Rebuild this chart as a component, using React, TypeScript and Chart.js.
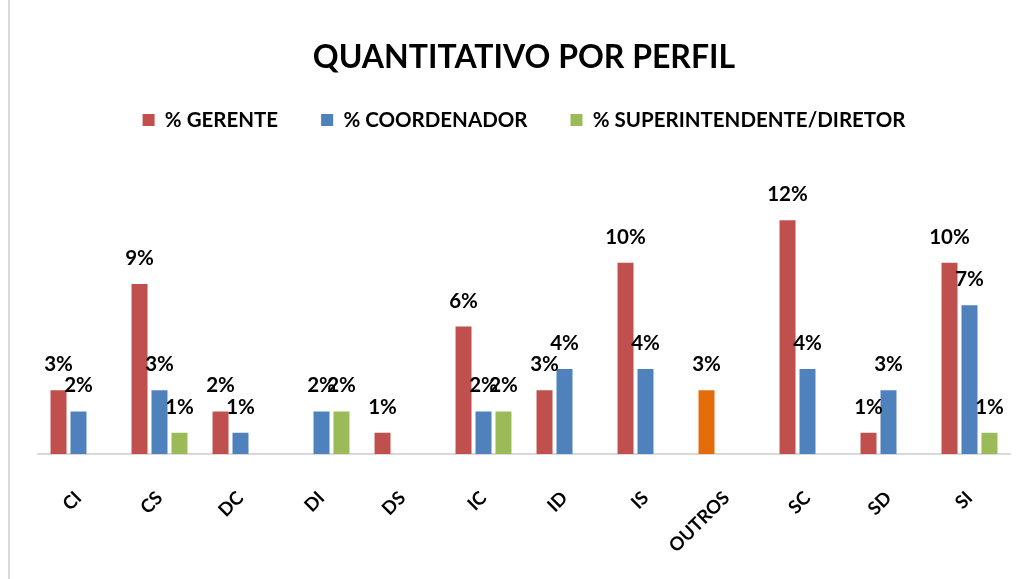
import React, { useEffect, useRef } from "react";
import { Chart, registerables } from "chart.js";

Chart.register(...registerables);

const categories = ["CI", "CS", "DC", "DI", "DS", "IC", "ID", "IS", "OUTROS", "SC", "SD", "SI"];
const gerente = [3.19, 8.51, 2.13, 0, 1.06, 6.38, 3.19, 9.57, 3.19, 11.7, 1.06, 9.57];
const coordenador = [2.13, 3.19, 1.06, 2.13, 0, 2.13, 4.26, 4.26, 0, 4.26, 3.19, 7.45];
const superintendente = [0, 1.06, 0, 2.13, 0, 2.13, 0, 0, 0, 0, 0, 1.06];
const seriesNames = ["% GERENTE", "% COORDENADOR", "% SUPERINTENDENTE/DIRETOR"];

const RED = "#C0504D";
const BLUE = "#4F81BD";
const GREEN = "#9BBB59";
const ORANGE = "#E46C0A";
const FONT = "Lato, 'Open Sans', sans-serif";

const valueLabels = {
  id: "valueLabels",
  afterDatasetsDraw(chart: any) {
    const ctx = chart.ctx;
    ctx.save();
    ctx.font = `bold 20.5px ${FONT}`;
    ctx.fillStyle = "#000";
    ctx.textAlign = "center";
    ctx.textBaseline = "alphabetic";
    chart.data.datasets.forEach((ds: any, i: number) => {
      const meta = chart.getDatasetMeta(i);
      meta.data.forEach((bar: any, j: number) => {
        const v = ds.data[j];
        if (!v) return;
        ctx.fillText(`${Math.round(v)}%`, bar.x, bar.y - 19);
      });
    });
    ctx.restore();
  },
};

export default function App() {
  const ref = useRef<HTMLCanvasElement>(null);
  useEffect(() => {
    if (!ref.current) return;
    const gerenteColors = categories.map((c) => (c === "OUTROS" ? ORANGE : RED));
    const chart = new Chart(ref.current, {
      type: "bar",
      data: {
        labels: categories,
        datasets: [
          { label: seriesNames[0], data: gerente, backgroundColor: gerenteColors },
          { label: seriesNames[1], data: coordenador, backgroundColor: BLUE },
          { label: seriesNames[2], data: superintendente, backgroundColor: GREEN },
        ],
      },
      options: {
        responsive: false,
        animation: false,
        events: [],
        layout: { padding: { left: 38, right: 14, top: 0, bottom: 0 } },
        datasets: { bar: { categoryPercentage: 0.74, barPercentage: 0.8 } },
        plugins: {
          title: {
            display: true,
            text: "QUANTITATIVO POR PERFIL",
            color: "#000",
            font: { family: FONT, size: 32, weight: "bold" },
            padding: { top: 38, bottom: -9.6 },
          },
          legend: {
            display: true,
            position: "top",
            labels: {
              color: "#000",
              font: { family: FONT, size: 20.5, weight: "bold" },
              boxWidth: 12,
              boxHeight: 12,
              padding: 43,
            },
          },
          tooltip: { enabled: false },
        },
        scales: {
          x: {
            grid: { display: false, drawTicks: false },
            border: { display: true, color: "#D9D9D9", width: 2 },
            ticks: {
              color: "#000",
              font: { family: FONT, size: 18.5, weight: "bold" },
              maxRotation: 45,
              minRotation: 45,
              padding: 33,
              autoSkip: false,
            },
            afterFit: (scale: any) => {
              scale.height = 125;
            },
          },
          y: {
            display: false,
            min: 0,
            max: 15.7,
          },
        },
      },
      plugins: [valueLabels],
    });
    return () => chart.destroy();
  }, []);
  return (
    <div style={{ position: "fixed", left: 0, top: 0, width: 1024, height: 579, background: "#fff" }}>
      <div style={{ position: "absolute", left: 8, top: 0, width: 2, height: 579, background: "#D9D9D9" }} />
      <canvas ref={ref} width={1024} height={579} style={{ position: "absolute", left: 0, top: 0 }} />
    </div>
  );
}
